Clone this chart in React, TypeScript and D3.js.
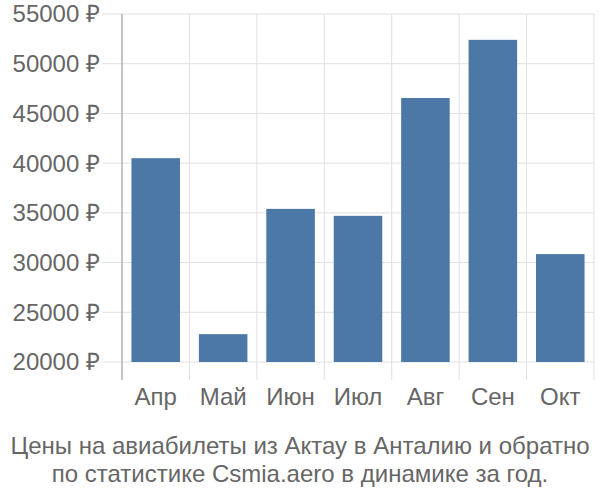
import React from "react";
import * as d3 from "d3";

const categories = ["Апр", "Май", "Июн", "Июл", "Авг", "Сен", "Окт"];
const values = [40500, 22800, 35400, 34700, 46550, 52400, 30850];
const yTicks = [20000, 25000, 30000, 35000, 40000, 45000, 50000, 55000];
const titleLines = [
  "Цены на авиабилеты из Актау в Анталию и обратно",
  "по статистике Csmia.aero в динамике за год.",
];

export default function App() {
  const W = 600, H = 500;
  const left = 122, right = 594, top = 14, bottom = 362;
  const x = d3.scaleBand<string>().domain(categories).range([left, right]).paddingInner(0.28).paddingOuter(0.14);
  const xb = d3.scaleBand<string>().domain(categories).range([left, right]);
  const y = d3.scaleLinear().domain([20000, 55000]).range([bottom, top]);
  const font = "'Liberation Sans', Arial, sans-serif";
  const boundaries = categories.map((c) => xb(c) as number).concat([right]);
  return (
    <svg width={W} height={H} style={{ position: "absolute", left: 0, top: 0 }}>
      <rect width={W} height={H} fill="#fff" />
      {yTicks.map((t) => (
        <line key={t} x1={102} x2={right} y1={y(t)} y2={y(t)} stroke="#e0e0e0" strokeWidth={1} />
      ))}
      {boundaries.map((b, i) => (
        <line key={i} x1={b} x2={b} y1={top} y2={380} stroke={i === 0 ? "#b0b0b0" : "#e0e0e0"} strokeWidth={i === 0 ? 1.5 : 1} />
      ))}
      {categories.map((c, i) => (
        <rect key={c} x={x(c)} y={y(values[i])} width={x.bandwidth()} height={bottom - y(values[i])} fill="#4c78a8" />
      ))}
      {yTicks.map((t) => (
        <text key={t} x={100} y={y(t)} dy="0.35em" textAnchor="end" fontSize={24} fill="#666" fontFamily={font}>
          {t} ₽
        </text>
      ))}
      {categories.map((c) => (
        <text key={c} x={(xb(c) as number) + xb.bandwidth() / 2} y={405} textAnchor="middle" fontSize={24} fill="#666" fontFamily={font}>
          {c}
        </text>
      ))}
      {titleLines.map((l, i) => (
        <text key={i} x={300} y={454 + i * 28} textAnchor="middle" fontSize={24} fill="#666" fontFamily={font}>
          {l}
        </text>
      ))}
    </svg>
  );
}
